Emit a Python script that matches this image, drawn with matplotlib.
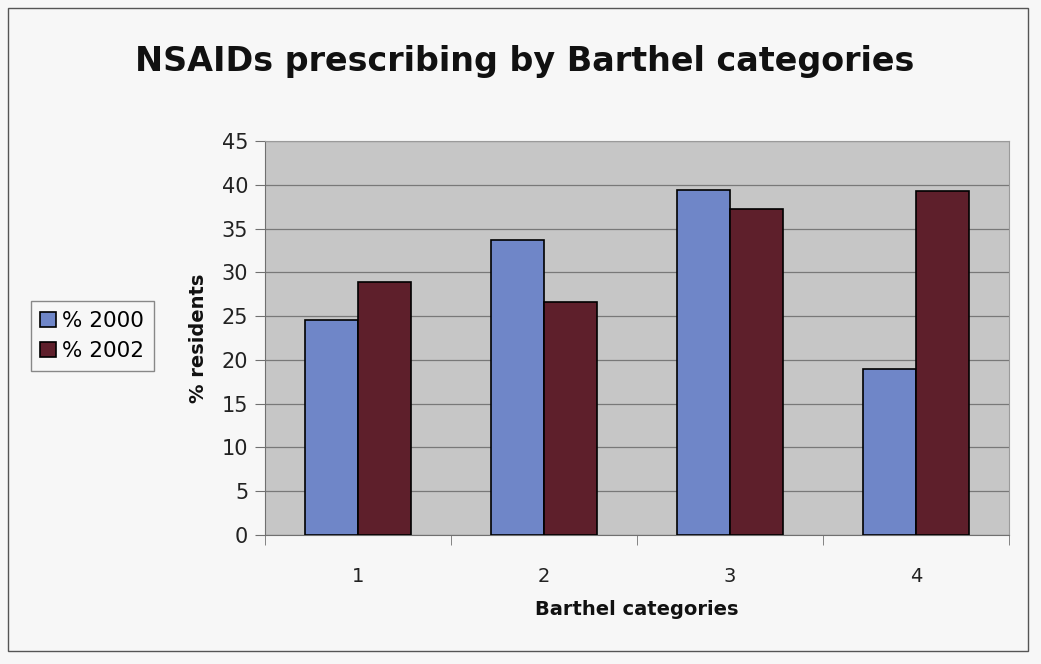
import numpy as np
import matplotlib.pyplot as plt
from matplotlib.patches import Rectangle

categories = ["1", "2", "3", "4"]
pct_2000 = [24.6, 33.7, 39.4, 19.0]
pct_2002 = [28.9, 26.6, 37.2, 39.3]
series_names = ["% 2000", "% 2002"]
y_ticks = [0, 5, 10, 15, 20, 25, 30, 35, 40, 45]


def main():
    fig = plt.figure(figsize=(10.41, 6.64), dpi=100)
    fig.patch.set_facecolor("#f7f7f7")
    # outer chart border
    fig.add_artist(Rectangle((8 / 1041, 1 - 651 / 664), 1020 / 1041, 643 / 664,
                             transform=fig.transFigure, fill=False,
                             edgecolor="#555555", linewidth=1))

    ax = fig.add_axes([265 / 1041, 1 - 535 / 664, 744 / 1041, 394 / 664])
    ax.set_facecolor("#c6c6c6")

    x = np.arange(len(categories))
    w = 1 / 3.5
    ax.bar(x - w / 2, pct_2000, w, color="#6f86c8", edgecolor="black",
           linewidth=1.2, label=series_names[0], zorder=3)
    ax.bar(x + w / 2, pct_2002, w, color="#5e1f2b", edgecolor="black",
           linewidth=1.2, label=series_names[1], zorder=3)

    ax.set_xlim(-0.5, len(categories) - 0.5)
    ax.set_ylim(0, 45)
    ax.set_yticks(y_ticks)
    ax.yaxis.grid(True, color="#787878", linewidth=0.9, zorder=1)
    ax.tick_params(axis="y", direction="out", length=7, color="#707070",
                   labelsize=15, labelcolor="#222222", pad=5)

    ax.set_xticks(x)
    ax.set_xticklabels(categories)
    ax.set_xticks(np.arange(len(categories) + 1) - 0.5, minor=True)
    ax.tick_params(axis="x", which="major", length=0, labelsize=14,
                   labelcolor="#222222", pad=23)
    ax.tick_params(axis="x", which="minor", direction="out", length=7,
                   color="#707070")

    for side in ["top", "right"]:
        ax.spines[side].set_color("#9a9a9a")
    ax.spines["left"].set_color("#707070")
    ax.spines["bottom"].set_color("#707070")

    ax.set_ylabel("% residents", fontsize=14, fontweight="bold", labelpad=10,
                  color="#111111")
    ax.set_xlabel("Barthel categories", fontsize=14, fontweight="bold", labelpad=10,
                  color="#111111")

    fig.text(525 / 1041, 1 - 62 / 664, "NSAIDs prescribing by Barthel categories",
             ha="center", va="center", fontsize=24, fontweight="bold",
             color="#111111")

    ax.legend(loc="center left", bbox_to_anchor=(20 / 1041, 1 - 336 / 664),
              bbox_transform=fig.transFigure, fontsize=15.5, frameon=True,
              fancybox=False, edgecolor="#888888", facecolor="#f7f7f7",
              handlelength=0.7, handleheight=0.7, handletextpad=0.3,
              borderpad=0.45, labelspacing=0.45, framealpha=1)

    plt.savefig("out.png", dpi=100, facecolor=fig.get_facecolor())


if __name__ == "__main__":
    main()
